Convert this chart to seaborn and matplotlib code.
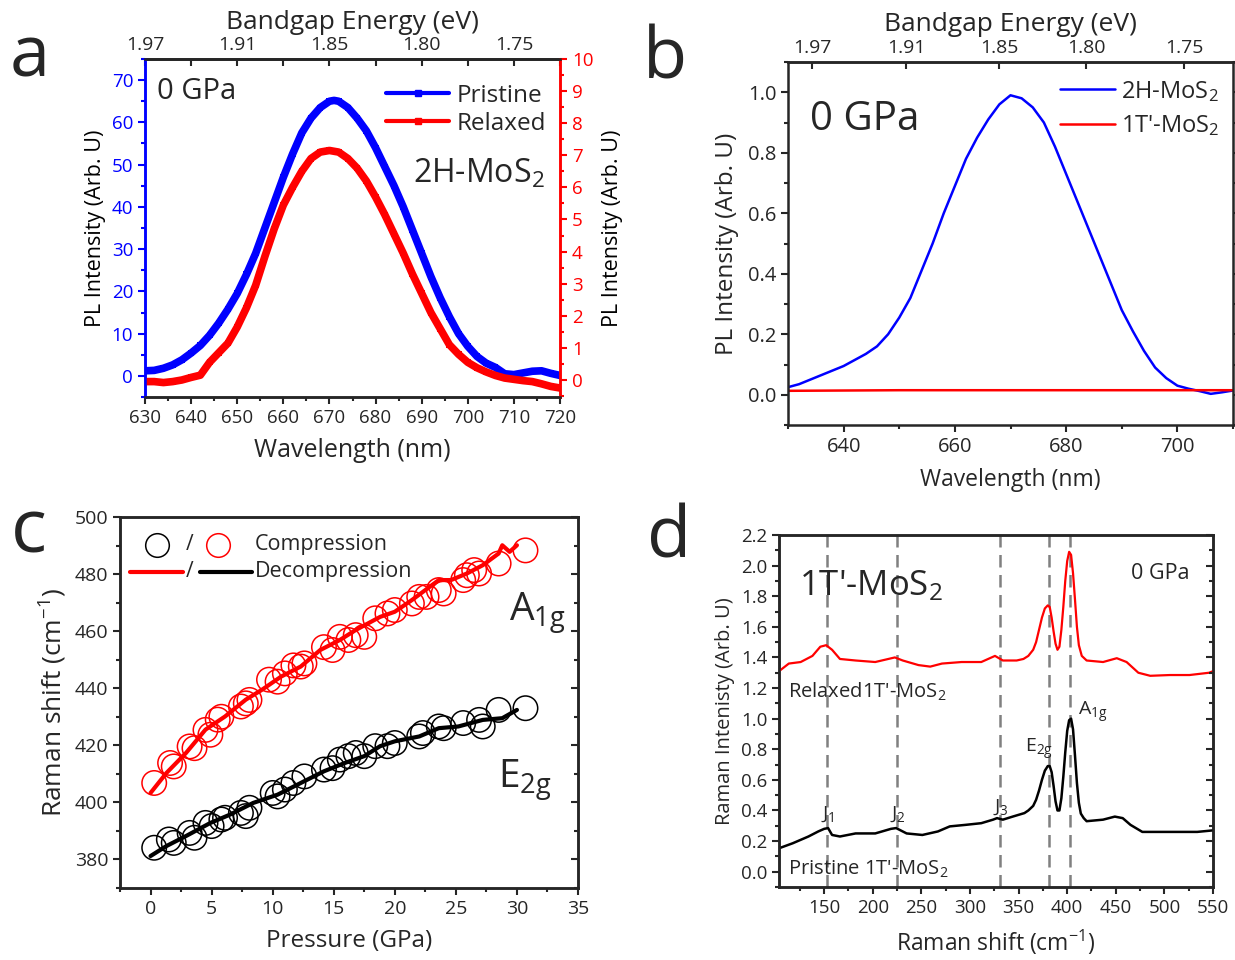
import matplotlib
matplotlib.use("Agg")
import matplotlib.pyplot as plt
import seaborn as sns
from matplotlib.lines import Line2D
from matplotlib.ticker import MultipleLocator

sns.set_theme(style="ticks")
plt.rcParams['font.family'] = ['Open Sans', 'DejaVu Sans']
plt.rcParams['mathtext.default'] = 'regular'
plt.rcParams['axes.linewidth'] = 1.8

# ---------------- Panel a data ----------------
a_wl_pristine = [630, 632, 634, 636, 638, 640, 642, 644, 646, 648, 650, 652, 654, 656, 658, 660,
                 662, 664, 666, 668, 670, 671, 672, 674, 676, 678, 680, 682, 684, 686, 688, 690,
                 692, 694, 696, 698, 700, 702, 704, 706, 708, 710, 712, 714, 716, 718, 720]
a_pristine = [1.2, 1.3, 1.8, 2.6, 3.8, 5.4, 7.2, 9.6, 12.5, 15.8, 19.5, 24, 29, 35, 41, 47,
              52.5, 57.5, 61, 63.5, 65, 65.2, 65, 63.5, 61, 58, 54, 49.5, 45, 40, 34.5, 29,
              23.5, 18.5, 14, 10, 7, 4.6, 3, 2, 0.5, 0.3, 0.7, 1.1, 1.2, 0.6, 0.1]
a_wl_relaxed = [630, 632, 634, 636, 638, 640, 642, 644, 646, 648, 650, 652, 654, 656, 658, 660,
                662, 664, 666, 668, 670, 672, 674, 676, 678, 680, 682, 684, 686, 688, 690,
                692, 694, 696, 698, 700, 702, 704, 706, 708, 710, 712, 714, 716, 718, 720]
a_relaxed = [-0.05, -0.05, -0.08, -0.05, 0.0, 0.08, 0.15, 0.55, 0.85, 1.15, 1.65, 2.25, 2.95, 3.85, 4.7, 5.45,
             6.0, 6.5, 6.9, 7.1, 7.15, 7.1, 6.9, 6.6, 6.2, 5.7, 5.15, 4.55, 3.95, 3.3, 2.7,
             2.1, 1.6, 1.1, 0.8, 0.55, 0.38, 0.25, 0.14, 0.06, 0.02, -0.02, -0.05, -0.12, -0.2, -0.25]
a_top_pos = [630, 650, 670, 690, 710]
a_top_labels = ["1.97", "1.91", "1.85", "1.80", "1.75"]

# ---------------- Panel b data ----------------
b_wl = [630, 632, 634, 636, 638, 640, 642, 644, 646, 648, 650, 652, 654, 656, 658, 660, 662, 664,
        666, 668, 670, 672, 674, 676, 678, 680, 682, 684, 686, 688, 690, 692, 694, 696, 698, 700,
        702, 704, 706, 708, 710]
b_2h = [0.025, 0.035, 0.05, 0.065, 0.08, 0.095, 0.115, 0.135, 0.16, 0.2, 0.255, 0.32, 0.41, 0.5,
        0.6, 0.69, 0.78, 0.85, 0.91, 0.96, 0.99, 0.98, 0.95, 0.9, 0.82, 0.73, 0.64, 0.55, 0.46,
        0.37, 0.28, 0.21, 0.145, 0.09, 0.055, 0.03, 0.02, 0.012, 0.003, 0.008, 0.014]
b_wl_1t = [630, 650, 670, 690, 710]
b_1t = [0.013, 0.015, 0.015, 0.015, 0.015]
b_top_pos = [634.4, 651.3, 668.0, 683.6, 701.2]
b_top_labels = ["1.97", "1.91", "1.85", "1.80", "1.75"]

# ---------------- Panel c data ----------------
c_p_a1g_comp = [0.3, 1.6, 1.9, 3.2, 3.6, 4.5, 4.9, 5.5, 5.8, 7.4, 7.8, 8.1, 9.7, 10.4, 11.0, 11.7,
                12.3, 12.6, 14.2, 14.9, 15.5, 16.2, 16.8, 17.5, 18.4, 19.4, 20.0, 21.4, 22.0, 22.6,
                23.6, 24.0, 25.6, 25.9, 26.5, 26.9, 28.5, 30.7]
c_a1g_comp = [406.8, 413.8, 412.6, 419.6, 419.0, 425.4, 423.7, 429.0, 430.0, 433.6, 434.7, 435.9,
              443.0, 442.3, 445.2, 448.0, 447.6, 448.7, 454.4, 453.4, 458.0, 456.9, 458.6, 458.0,
              464.5, 466.2, 467.4, 469.7, 472.0, 472.0, 474.4, 473.2, 477.9, 479.6, 481.4, 480.2,
              483.7, 488.3]
c_p_a1g_dec = [0, 1.3, 2.9, 4.5, 6.1, 7.8, 9.1, 10.7, 12.3, 13.9, 15.5, 16.8, 18.8, 20.0, 21.4,
               23.6, 24.6, 25.9, 27.2, 28.5, 28.8, 29.4, 30.0]
c_a1g_dec = [403.3, 410.3, 417.3, 425.5, 430.1, 436.0, 439.4, 444.1, 447.6, 453.4, 456.9, 460.4,
             465.0, 466.8, 470.9, 477.9, 477.9, 480.2, 483.1, 487.2, 490.1, 487.8, 490.1]
c_p_e2g_comp = [0.3, 1.5, 1.9, 3.2, 3.6, 4.5, 5.0, 5.8, 6.1, 7.4, 7.8, 8.1, 10.0, 10.4, 11.0, 11.7,
                12.6, 14.2, 14.9, 15.5, 16.2, 16.8, 17.5, 18.4, 19.4, 20.0, 22.0, 22.3, 23.6, 24.0,
                25.6, 26.9, 27.2, 28.5, 30.7]
c_e2g_comp = [384.1, 387.0, 385.8, 389.3, 387.6, 392.8, 391.7, 394.0, 394.6, 396.3, 395.2, 398.1,
              403.3, 402.1, 404.5, 406.8, 409.1, 411.5, 412.0, 415.0, 416.2, 417.3, 416.2, 419.7,
              419.7, 420.8, 423.1, 424.3, 426.6, 426.0, 427.8, 428.9, 426.6, 432.4, 433.0]
c_p_e2g_dec = [0, 1.3, 2.9, 4.9, 6.5, 8.4, 10.4, 12.3, 14.2, 15.9, 17.5, 18.8, 20.0, 22.0, 23.6,
               25.2, 27.2, 28.8, 30.0]
c_e2g_dec = [381.2, 384.7, 388.2, 392.8, 395.7, 399.8, 402.7, 406.8, 410.9, 413.8, 416.2, 419.7,
             421.4, 423.1, 426.0, 426.6, 428.9, 429.5, 432.4]

# ---------------- Panel d data ----------------
d_x_relaxed = [103.5, 113.6, 125.8, 137.9, 146, 152, 158.1, 166.2, 182.3, 202.5, 222.7, 230.8, 247,
               259.1, 271.2, 291.4, 311.6, 325.7, 333.8, 348, 355, 360, 365, 368, 371, 374, 377,
               380, 382, 384, 386, 388, 390, 392, 394, 396, 398, 400, 402, 404, 406, 408, 410,
               412, 415, 420, 436.9, 451, 461.1, 473.2, 485.4, 505.6, 525.8, 546, 550]
d_relaxed = [1.31, 1.36, 1.37, 1.41, 1.47, 1.48, 1.45, 1.39, 1.38, 1.37, 1.40, 1.38, 1.35, 1.34,
             1.36, 1.37, 1.37, 1.41, 1.38, 1.38, 1.39, 1.41, 1.45, 1.50, 1.58, 1.66, 1.72,
             1.74, 1.73, 1.66, 1.57, 1.49, 1.45, 1.47, 1.58, 1.73, 1.90, 2.03, 2.09, 2.07, 1.95,
             1.78, 1.60, 1.48, 1.41, 1.38, 1.37, 1.395, 1.37, 1.30, 1.28, 1.285, 1.285, 1.30, 1.31]
d_x_pristine = [103.5, 117.7, 133.8, 143.9, 150, 154, 158.1, 166.2, 182.3, 202.5, 218.7, 224,
                234.8, 251, 267, 279.2, 295.4, 311.6, 323.7, 327.8, 333.8, 343.9, 356, 360, 365,
                368, 371, 374, 377, 380, 382, 384, 386, 388, 390, 392, 394, 396, 398, 400, 402,
                404, 406, 408, 410, 412, 414, 417, 420, 436.9, 449, 457.1, 465.1, 477.3, 493.4,
                513.6, 533.8, 550]
d_pristine = [0.153, 0.186, 0.23, 0.263, 0.28, 0.285, 0.24, 0.23, 0.25, 0.25, 0.28, 0.285, 0.25,
              0.24, 0.263, 0.296, 0.306, 0.317, 0.34, 0.35, 0.34, 0.36, 0.383, 0.40, 0.43,
              0.47, 0.53, 0.60, 0.66, 0.69, 0.69, 0.65, 0.56, 0.46, 0.40, 0.40, 0.48, 0.62,
              0.78, 0.92, 0.99, 1.0, 0.93, 0.76, 0.58, 0.45, 0.38, 0.35, 0.33, 0.34, 0.36, 0.35,
              0.306, 0.26, 0.26, 0.26, 0.26, 0.27]
d_peak_lines = [153, 225, 331, 381, 403]

fig = plt.figure(figsize=(12.35, 9.6), dpi=100)
W, H = 1235, 960


def axes_px(l, t, r, b):
    return fig.add_axes([l / W, (H - b) / H, (r - l) / W, (b - t) / H])


def style_ticks(axis_obj, labelsize, direction='out', which_axis='both'):
    axis_obj.tick_params(axis=which_axis, which='both', direction=direction,
                         labelsize=labelsize, width=1.5)
    axis_obj.tick_params(axis=which_axis, which='major', length=5)
    axis_obj.tick_params(axis=which_axis, which='minor', length=3)


# ================= Panel a =================
ax = axes_px(145, 59, 560, 397)
ax2 = ax.twinx()
sns.lineplot(x=a_wl_pristine, y=a_pristine, ax=ax, color='#0000ff', lw=5.5, marker='s',
             markersize=5, markeredgewidth=0, sort=False, estimator=None)
sns.lineplot(x=a_wl_relaxed, y=a_relaxed, ax=ax2, color='#ff0000', lw=5.5, marker='s',
             markersize=5, markeredgewidth=0, sort=False, estimator=None)
ax.set_xlim(630, 720)
ax.set_ylim(-5, 75)
ax2.set_ylim(-0.53, 10)
ax.xaxis.set_major_locator(MultipleLocator(10))
ax.xaxis.set_minor_locator(MultipleLocator(5))
ax.yaxis.set_major_locator(MultipleLocator(10))
ax.yaxis.set_minor_locator(MultipleLocator(5))
ax2.yaxis.set_major_locator(MultipleLocator(1))
ax2.yaxis.set_minor_locator(MultipleLocator(0.5))
style_ticks(ax, 13.5, which_axis='x')
style_ticks(ax, 13.5, which_axis='y')
ax.tick_params(axis='y', which='both', colors='#0000ff')
style_ticks(ax2, 13.5, which_axis='y')
ax2.tick_params(axis='y', which='both', colors='#ff0000')
for a_ in (ax, ax2):
    a_.spines['left'].set_color('#0000ff')
    a_.spines['right'].set_color('#ff0000')
ax.set_xlabel("Wavelength (nm)", fontsize=18, labelpad=8)
ax.set_ylabel("PL Intensity (Arb. U)", fontsize=15.5, labelpad=4, color='black')
ax2.set_ylabel("PL Intensity (Arb. U)", fontsize=15.5, labelpad=6, color='black')
sec = ax.secondary_xaxis('top')
sec.set_xticks(a_top_pos, labels=a_top_labels)
sec.xaxis.set_minor_locator(MultipleLocator(10))
sec.tick_params(which='both', direction='in', labelsize=14, width=1.5, length=5)
sec.set_xlabel("Bandgap Energy (eV)", fontsize=19, labelpad=5)
ax.text(0.03, 0.905, "0 GPa", transform=ax.transAxes, fontsize=21, va='center')
ax.text(0.645, 0.66, "2H-MoS$_2$", transform=ax.transAxes, fontsize=23, va='center')
hs = [Line2D([], [], color='#0000ff', lw=3, marker='s', markersize=5),
      Line2D([], [], color='#ff0000', lw=3, marker='s', markersize=5)]
ax.legend(hs, ["Pristine", "Relaxed"], loc='upper right', frameon=False, fontsize=17.5,
          handlelength=2.6, borderaxespad=0.0, labelspacing=0.15, handletextpad=0.3,
          bbox_to_anchor=(0.99, 0.955))

# ================= Panel b =================
bx = axes_px(788, 62, 1233, 425)
sns.lineplot(x=b_wl, y=b_2h, ax=bx, color='#0000ff', lw=1.8, sort=False, estimator=None)
sns.lineplot(x=b_wl_1t, y=b_1t, ax=bx, color='#ff0000', lw=1.8, sort=False, estimator=None)
bx.set_xlim(630, 710)
bx.set_ylim(-0.1, 1.1)
bx.xaxis.set_major_locator(MultipleLocator(20))
bx.xaxis.set_minor_locator(MultipleLocator(10))
bx.yaxis.set_major_locator(MultipleLocator(0.2))
bx.yaxis.set_minor_locator(MultipleLocator(0.1))
style_ticks(bx, 14.5)
bx.tick_params(axis='y', which='both', right=True)
bx.set_xlabel("Wavelength (nm)", fontsize=16.5, labelpad=8)
bx.set_ylabel("PL Intensity (Arb. U)", fontsize=17.5, labelpad=6)
secb = bx.secondary_xaxis('top')
secb.set_xticks(b_top_pos, labels=b_top_labels)
secb.tick_params(which='both', direction='in', labelsize=14, width=1.5, length=5)
secb.set_xlabel("Bandgap Energy (eV)", fontsize=19, labelpad=6)
bx.text(0.05, 0.84, "0 GPa", transform=bx.transAxes, fontsize=29, va='center')
hb = [Line2D([], [], color='#0000ff', lw=1.8), Line2D([], [], color='#ff0000', lw=1.8)]
bx.legend(hb, ["2H-MoS$_2$", "1T'-MoS$_2$"], loc='upper right', frameon=False, fontsize=17,
          handlelength=2.3, borderaxespad=0.0, labelspacing=0.4, handletextpad=0.25,
          bbox_to_anchor=(0.99, 0.98))

# ================= Panel c =================
cx = axes_px(120, 517, 578, 888)
sns.scatterplot(x=c_p_a1g_comp, y=c_a1g_comp, ax=cx, color='#ff0000', facecolors='none',
                edgecolor='#ff0000', s=310, linewidth=1.1, marker='o', zorder=2)
sns.scatterplot(x=c_p_e2g_comp, y=c_e2g_comp, ax=cx, color='black', facecolors='none',
                edgecolor='black', s=310, linewidth=1.1, marker='o', zorder=2)
sns.lineplot(x=c_p_a1g_dec, y=c_a1g_dec, ax=cx, color='#ff0000', lw=3, sort=False,
             estimator=None, zorder=3)
sns.lineplot(x=c_p_e2g_dec, y=c_e2g_dec, ax=cx, color='black', lw=3, sort=False,
             estimator=None, zorder=3)
cx.set_xlim(-2.5, 35)
cx.set_ylim(370, 500)
cx.xaxis.set_major_locator(MultipleLocator(5))
cx.xaxis.set_minor_locator(MultipleLocator(2.5))
cx.yaxis.set_minor_locator(MultipleLocator(10))
style_ticks(cx, 14)
cx.set_yticks([380, 400, 420, 440, 460, 480, 500])
cx.set_xlabel("Pressure (GPa)", fontsize=17.5, labelpad=8)
cx.set_ylabel("Raman shift (cm$^{-1}$)", fontsize=19, labelpad=4)
cr = cx.twinx()
cr.set_ylim(370, 500)
cr.yaxis.set_major_locator(MultipleLocator(20))
cr.yaxis.set_minor_locator(MultipleLocator(10))
style_ticks(cr, 14, direction='in')
cr.tick_params(labelright=False)
# custom legend
tr = cx.transAxes
cx.plot([0.081], [0.925], 'o', mfc='none', mec='black', ms=17, mew=1.1, transform=tr)
cx.text(0.153, 0.925, "/", transform=tr, fontsize=15, va='center', ha='center')
cx.plot([0.214], [0.925], 'o', mfc='none', mec='#ff0000', ms=17, mew=1.1, transform=tr)
cx.text(0.295, 0.925, "Compression", transform=tr, fontsize=15.5, va='center')
cx.plot([0.022, 0.138], [0.852, 0.852], color='#ff0000', lw=3, transform=tr)
cx.text(0.153, 0.852, "/", transform=tr, fontsize=15, va='center', ha='center')
cx.plot([0.175, 0.288], [0.852, 0.852], color='black', lw=3, transform=tr)
cx.text(0.295, 0.852, "Decompression", transform=tr, fontsize=15.5, va='center')
cx.text(0.85, 0.74, "A$_{1g}$", transform=tr, fontsize=28, va='center')
cx.text(0.825, 0.29, "E$_{2g}$", transform=tr, fontsize=28, va='center')

# ================= Panel d =================
dx = axes_px(779, 535, 1213, 887)
for xv in d_peak_lines:
    dx.axvline(xv, color='#808080', lw=1.8, ls=(0, (5, 3)), zorder=1)
sns.lineplot(x=d_x_relaxed, y=d_relaxed, ax=dx, color='#ff0000', lw=1.6, sort=False,
             estimator=None, zorder=3)
sns.lineplot(x=d_x_pristine, y=d_pristine, ax=dx, color='black', lw=1.8, sort=False,
             estimator=None, zorder=3)
dx.set_xlim(103.5, 550)
dx.set_ylim(-0.1, 2.2)
dx.xaxis.set_major_locator(MultipleLocator(50))
dx.xaxis.set_minor_locator(MultipleLocator(25))
dx.yaxis.set_major_locator(MultipleLocator(0.2))
dx.yaxis.set_minor_locator(MultipleLocator(0.1))
style_ticks(dx, 13.5)
dx.set_xlabel("Raman shift (cm$^{-1}$)", fontsize=16.5, labelpad=8)
dx.set_ylabel("Raman Intenisty (Arb. U)", fontsize=14.5, labelpad=4)
dr = dx.twinx()
dr.set_ylim(-0.1, 2.2)
dr.yaxis.set_major_locator(MultipleLocator(0.2))
dr.yaxis.set_minor_locator(MultipleLocator(0.1))
style_ticks(dr, 13.5, direction='in')
dr.tick_params(labelright=False)
trd = dx.transAxes
dx.text(0.045, 0.855, "1T'-MoS$_2$", transform=trd, fontsize=25, va='center')
dx.text(0.81, 0.89, "0 GPa", transform=trd, fontsize=15.5, va='center')
dx.text(0.02, 0.555, "Relaxed1T'-MoS$_2$", transform=trd, fontsize=14.5, va='center')
dx.text(0.02, 0.05, "Pristine 1T'-MoS$_2$", transform=trd, fontsize=14.5, va='center')
dx.text(154, 0.31, "J$_1$", fontsize=14, ha='center', va='bottom')
dx.text(226, 0.31, "J$_2$", fontsize=14, ha='center', va='bottom')
dx.text(332, 0.36, "J$_3$", fontsize=14, ha='center', va='bottom')
dx.text(371, 0.72, "E$_{2g}$", fontsize=14, ha='center', va='bottom')
dx.text(426, 0.96, "A$_{1g}$", fontsize=14, ha='center', va='bottom')

# Panel letters
fig.text(30 / W, 1 - 58 / H, "a", fontsize=52, ha='center', va='center')
fig.text(665 / W, 1 - 60 / H, "b", fontsize=52, ha='center', va='center')
fig.text(29 / W, 1 - 533 / H, "c", fontsize=54, ha='center', va='center')
fig.text(669 / W, 1 - 539 / H, "d", fontsize=52, ha='center', va='center')

fig.savefig("out.png", dpi=100)
